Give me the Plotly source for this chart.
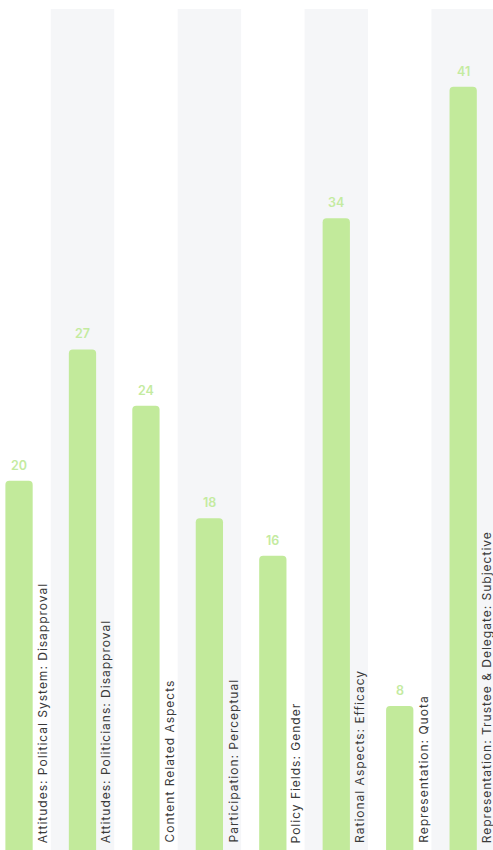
import plotly.graph_objects as go

categories = [
    "Attitudes: Political System: Disapproval",
    "Attitudes: Politicians: Disapproval",
    "Content Related Aspects",
    "Participation: Perceptual",
    "Policy Fields: Gender",
    "Rational Aspects: Efficacy",
    "Representation: Quota",
    "Representation: Trustee & Delegate: Subjective",
]
values = [20, 27, 24, 18, 16, 34, 8, 41]

BAR = "#c2ea9b"
BAND = "#f5f6f8"
VAL = "#c4eba0"
TXT = "#3a3a3a"

xs = list(range(len(categories)))

fig = go.Figure()
fig.add_trace(go.Bar(
    x=xs, y=values, width=0.43,
    marker=dict(color=BAR, line=dict(width=0)),
    hoverinfo="skip",
))

shapes = []
for i in xs:
    if i % 2 == 1:
        shapes.append(dict(type="rect", xref="x", yref="paper",
                           x0=i - 0.5, x1=i + 0.5, y0=0, y1=1,
                           fillcolor=BAND, line=dict(width=0), layer="below"))

annotations = []
for i, (c, v) in enumerate(zip(categories, values)):
    annotations.append(dict(
        x=i, y=v, xref="x", yref="y", text=str(v), showarrow=False,
        yanchor="bottom", xanchor="center", yshift=6,
        font=dict(family="Inter", size=12.5, color=VAL, weight=600),
    ))
    annotations.append(dict(
        x=i + 0.215, y=0, xref="x", yref="paper",
        text='<span style="letter-spacing:1px">' + c + "</span>",
        showarrow=False,
        textangle=-90, xanchor="left", yanchor="bottom", xshift=0, yshift=5,
        font=dict(family="Inter", size=12, color=TXT),
    ))

fig.update_layout(
    width=493, height=850,
    margin=dict(l=0, r=0, t=9, b=0),
    paper_bgcolor="white", plot_bgcolor="white",
    showlegend=False,
    barcornerradius=4,
    shapes=shapes,
    annotations=annotations,
    xaxis=dict(range=[-0.30, 7.47], showgrid=False, zeroline=False,
               showticklabels=False, ticks="", fixedrange=True),
    yaxis=dict(range=[0.32, 45.15], showgrid=False, zeroline=False,
               showticklabels=False, ticks="", fixedrange=True),
)

fig.write_html("out.html", config={"displayModeBar": False},
               post_script="document.body.style.margin='0';document.body.style.overflow='hidden';")
